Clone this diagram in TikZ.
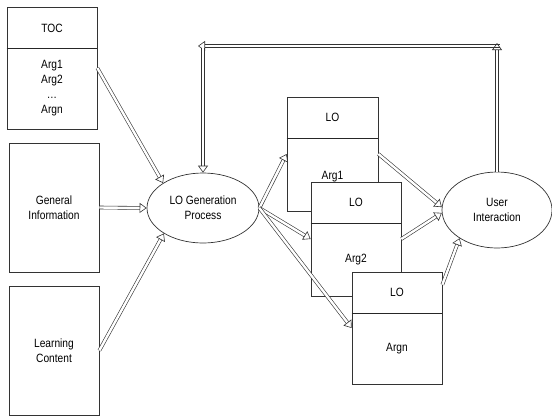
\documentclass[tikz,border=0pt]{standalone}
\usepackage{fontspec}
\setmainfont{Liberation Sans}[FakeStretch=0.85]
\usetikzlibrary{arrows.meta,shapes.geometric}
\begin{document}
\begin{tikzpicture}[x=1pt,y=-1pt,
  boxframe/.style={draw=black!80, line width=0.7pt, fill=white, inner sep=0pt},
  divider/.style={draw=black!85, line width=1pt},
  lbl/.style={font=\fontsize{12}{15}\selectfont, align=center, inner sep=0pt},
  oval/.style={ellipse, draw=black!80, line width=0.7pt, fill=white, inner sep=0pt, font=\fontsize{12}{15}\selectfont, align=center},
  hollow/.style={draw=black!80, line width=0.6pt, double=white, double distance=2.4pt,
    -{Triangle[open, length=7pt, width=10pt, line width=0.6pt]}}
]
\useasboundingbox (0,0) rectangle (552,416);

% left column
\node[boxframe, minimum width=90pt, minimum height=122pt] (toc) at (52,68) {};
\draw[divider] (toc.west |- 0,48) -- (toc.east |- 0,48);
\node[lbl] (toct) at (52,28) {TOC};
\node[lbl] (tocargs) at (52,88.5) {Arg1\\Arg2\\\dots\\Argn};

\node[boxframe, minimum width=90pt, minimum height=129pt] (gi) at (54,207.5) {};
\node[lbl] (git) at (54,207.5) {General\\Information};

\node[boxframe, minimum width=90pt, minimum height=129pt] (lc) at (54,350.5) {};
\node[lbl] (lct) at (54,350.5) {Learning\\Content};

% ellipses
\node[oval, minimum width=112pt, minimum height=70pt] (gen) at (203,208) {LO Generation\\Process};
\node[oval, minimum width=110pt, minimum height=76pt] (ui) at (497,210) {User\\Interaction};

% LO boxes
\node[boxframe, minimum width=91pt, minimum height=114pt] (b1) at (332.5,154) {};
\draw[divider] (b1.west |- 0,138) -- (b1.east |- 0,138);
\node[lbl] (b1lo) at (332.5,117.5) {LO};
\node[lbl] (b1arg) at (332.5,176.5) {Arg1};

\node[boxframe, minimum width=90pt, minimum height=114pt] (b2) at (356,239) {};
\draw[divider] (b2.west |- 0,223) -- (b2.east |- 0,223);
\node[lbl] (b2lo) at (356,202.5) {LO};
\node[lbl] (b2arg) at (356,259.5) {Arg2};

\node[boxframe, minimum width=90pt, minimum height=112pt] (b3) at (397,328) {};
\draw[divider] (b3.west |- 0,313) -- (b3.east |- 0,313);
\node[lbl] (b3lo) at (397,292.5) {LO};
\node[lbl] (b3arg) at (397,348.5) {Argn};

% connectors
\draw[hollow] (toc.east) -- (gen.148);
\draw[hollow] (gi.east) -- (gen.west);
\draw[hollow] (lc.east) -- (gen.213);
\draw[hollow] (gen.east) -- (b1.west);
\draw[hollow] (gen.east) -- (b2.west);
\draw[hollow] (gen.east) -- (b3.west);
\draw[hollow] (b1.east) -- (ui.177);
\draw[hollow] (b2.east) -- (ui.183);
\draw[hollow] ([yshift=-13pt]b3.north east) -- (ui.217);

% feedback loop
\coordinate (fbR) at (500,46);
\coordinate (fbL) at (198,46);
\draw[hollow] (fbR) -- (fbL);
\draw[hollow] (ui.north) -- (ui.north |- 0,43);
\draw[hollow] (gen.north |- 0,48) -- (gen.north);
\end{tikzpicture}
\end{document}
